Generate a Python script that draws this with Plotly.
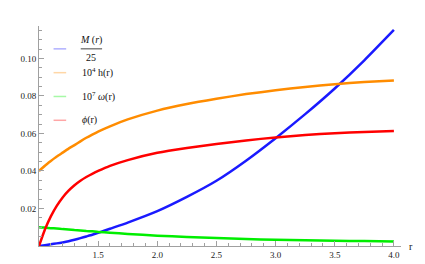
import plotly.graph_objects as go

# data
r_vals = [1.0, 1.05, 1.1, 1.15, 1.2, 1.25, 1.3, 1.35, 1.4, 1.45, 1.5, 1.6, 1.75, 2.0, 2.25, 2.5, 2.75, 3.0, 3.25,
          3.5, 3.75, 4.0]
M_over_25 = [0.0, 0.0004, 0.0009, 0.0014, 0.0019, 0.0025, 0.0033, 0.0042, 0.0051, 0.0060, 0.0070, 0.0092, 0.0125,
             0.0186, 0.0262, 0.0348, 0.0455, 0.0575, 0.0703, 0.0840, 0.0990, 0.1152]
h_scaled = [0.0400, 0.0428, 0.0453, 0.0477, 0.0498, 0.0519, 0.0538, 0.0558, 0.0577, 0.0594, 0.0610, 0.0638, 0.0675,
            0.0722, 0.0757, 0.0785, 0.0810, 0.0830, 0.0848, 0.0863, 0.0874, 0.0883]
omega_scaled = [0.0100, 0.0098, 0.0095, 0.0093, 0.0090, 0.0088, 0.0085, 0.0083, 0.0080, 0.0078, 0.0075, 0.0071,
                0.0064, 0.0055, 0.0048, 0.0042, 0.0037, 0.0033, 0.0030, 0.0028, 0.0026, 0.0024]
phi = [0.0, 0.0088, 0.0158, 0.0214, 0.0259, 0.0295, 0.0324, 0.0348, 0.0368, 0.0385, 0.0400, 0.0427, 0.0458,
       0.0497, 0.0523, 0.0544, 0.0563, 0.0579, 0.0592, 0.0601, 0.0608, 0.0613]

x_tick_vals = [1.5, 2.0, 2.5, 3.0, 3.5, 4.0]
x_tick_text = ["1.5", "2.0", "2.5", "3.0", "3.5", "4.0"]
y_tick_vals = [0.02, 0.04, 0.06, 0.08, 0.10]
y_tick_text = ["0.02", "0.04", "0.06", "0.08", "0.10"]

series = [
    ("M(r)/25", M_over_25, "#1a1aff", "rgba(26,26,255,0.35)"),
    ("10^4 h(r)", h_scaled, "#ff8c00", "rgba(255,140,0,0.35)"),
    ("10^7 ω(r)", omega_scaled, "#00ee00", "rgba(0,238,0,0.35)"),
    ("ϕ(r)", phi, "#ff0000", "rgba(255,0,0,0.35)"),
]

FONT = "Liberation Serif"

fig = go.Figure()
for name, vals, col, _ in series:
    fig.add_trace(go.Scatter(x=r_vals, y=vals, mode="lines", name=name,
                             line=dict(color=col, width=2.5, shape="spline", smoothing=0.5),
                             showlegend=False, hoverinfo="skip"))

W, H = 425, 264
L, R, T, B = 20, 32, 18, 15
pw, ph = W - L - R, H - T - B


def px(xp):
    return (xp - L) / pw


def py(yp):
    return (H - B - yp) / ph


shapes = []
annotations = []
legend_rows = [42, 67, 92, 117]
for (name, vals, col, pale), yrow in zip(series, legend_rows):
    shapes.append(dict(type="line", xref="paper", yref="paper", x0=px(35), x1=px(48), y0=py(yrow), y1=py(yrow),
                       line=dict(color=pale, width=1.5)))

# fraction legend entry M(r)/25
annotations.append(dict(xref="paper", yref="paper", x=px(74), y=py(33), text="<i>M</i> (<i>r</i>)",
                        showarrow=False, xanchor="center", yanchor="middle",
                        font=dict(family=FONT, size=10, color="#111")))
shapes.append(dict(type="line", xref="paper", yref="paper", x0=px(63), x1=px(85), y0=py(42), y1=py(42),
                   line=dict(color="#111", width=0.8)))
annotations.append(dict(xref="paper", yref="paper", x=px(74), y=py(51), text="25",
                        showarrow=False, xanchor="center", yanchor="middle",
                        font=dict(family=FONT, size=10, color="#111")))
for txt, yrow in [("10<sup>4</sup> h(r)", 67), ("10<sup>7</sup> <i>ω</i>(r)", 92), ("<i>ϕ</i>(r)", 117)]:
    annotations.append(dict(xref="paper", yref="paper", x=px(62), y=py(yrow), text=txt, showarrow=False,
                            xanchor="left", yanchor="middle", font=dict(family=FONT, size=10, color="#111")))

annotations.append(dict(xref="paper", yref="y", x=1, y=0, text="r", showarrow=False, xanchor="left",
                        yanchor="middle", xshift=6, font=dict(family=FONT, size=10, color="#111")))

axis_common = dict(showgrid=False, zeroline=False, showline=True, linecolor="#a0a0a0", linewidth=1,
                   ticks="inside", tickcolor="#a0a0a0", tickwidth=1, ticklen=5,
                   tickfont=dict(family=FONT, size=9, color="#222"))

fig.update_layout(
    width=W, height=H, margin=dict(l=L, r=R, t=T, b=B),
    paper_bgcolor="white", plot_bgcolor="white",
    shapes=shapes, annotations=annotations, showlegend=False,
    xaxis=dict(range=[1, 4.06], tickmode="array", tickvals=x_tick_vals, ticktext=x_tick_text,
               minor=dict(dtick=0.1, tick0=1, ticks="inside", ticklen=3, tickcolor="#a0a0a0", showgrid=False),
               **axis_common),
    yaxis=dict(range=[0, 0.1173], tickmode="array", tickvals=y_tick_vals, ticktext=y_tick_text,
               minor=dict(dtick=0.005, tick0=0, ticks="inside", ticklen=3, tickcolor="#a0a0a0", showgrid=False),
               **axis_common),
)

fig.write_html("out.html")
